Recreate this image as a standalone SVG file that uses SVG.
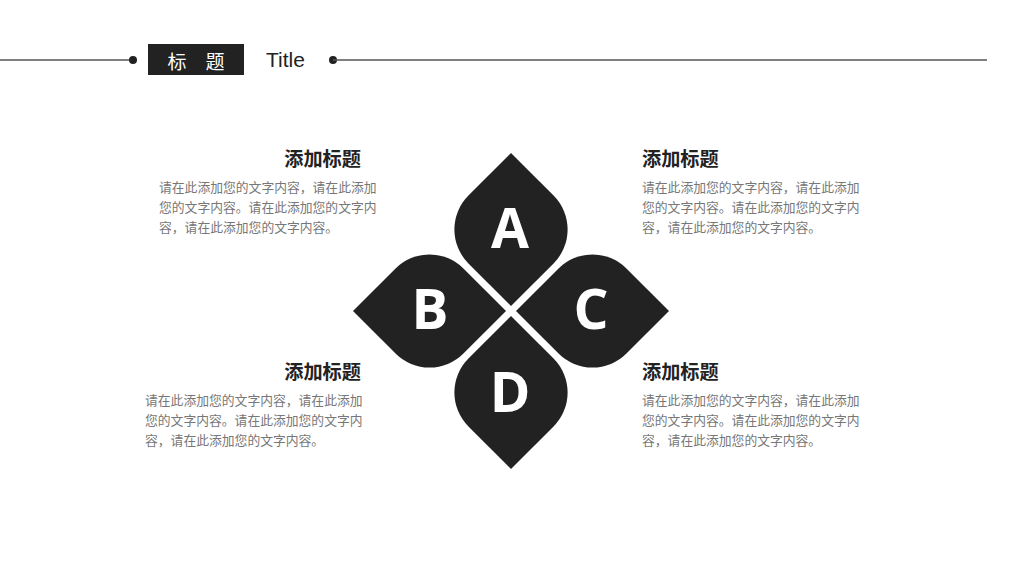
<svg xmlns="http://www.w3.org/2000/svg" width="1024" height="576" viewBox="0 0 1024 576">
<style>
.ln{stroke:#555;stroke-width:1.5;fill:none}
.dot{fill:#222}
.petal{fill:#222}
.let{font-family:"Open Sans","DejaVu Sans",sans-serif;font-weight:700;font-size:55px;fill:#fff;text-anchor:middle}
.hd{font-family:"Noto Sans CJK SC",sans-serif;font-weight:700;font-size:19.2px;fill:#222}
.bd{font-family:"Noto Sans CJK SC",sans-serif;font-size:12.8px;fill:#777}
</style>
<defs>
<path id="leaf" d="M0 0 L-42.56 -42.56 A48 48 0 0 1 -42.56 -110.44 L0 -153 L42.56 -110.44 A48 48 0 0 1 42.56 -42.56 Z"/>
</defs>
<rect width="1024" height="576" fill="#fff"/>
<g id="header">
<line class="ln" x1="0" y1="60" x2="133" y2="60"/>
<circle class="dot" cx="133" cy="60" r="4"/>
<rect x="148" y="44" width="96" height="31" fill="#222"/>
<text x="177" y="69" font-family="Noto Sans CJK SC,sans-serif" font-size="19" fill="#fff" text-anchor="middle">标</text>
<text x="215" y="69" font-family="Noto Sans CJK SC,sans-serif" font-size="19" fill="#fff" text-anchor="middle">题</text>
<text x="266" y="67" font-family="Liberation Sans,Arial,sans-serif" font-size="21" fill="#222">Title</text>
<circle class="dot" cx="333" cy="60" r="4"/>
<line class="ln" x1="333" y1="60" x2="987" y2="60"/>
</g>
<g id="petal-A">
<use href="#leaf" class="petal" transform="translate(511,306)"/>
<text class="let" x="510" y="248">A</text>
</g>
<g id="petal-B">
<use href="#leaf" class="petal" transform="translate(506,311) rotate(-90)"/>
<text class="let" x="430" y="329">B</text>
</g>
<g id="petal-C">
<use href="#leaf" class="petal" transform="translate(516,311) rotate(90)"/>
<text class="let" x="591" y="329">C</text>
</g>
<g id="petal-D">
<use href="#leaf" class="petal" transform="translate(511,316) rotate(180)"/>
<text class="let" x="510" y="412">D</text>
</g>
<g id="text-tl">
<text class="hd" x="361" y="166" text-anchor="end">添加标题</text>
<text class="bd" x="159" y="192">请在此添加您的文字内容，请在此添加</text>
<text class="bd" x="159" y="212">您的文字内容。请在此添加您的文字内</text>
<text class="bd" x="159" y="232">容，请在此添加您的文字内容。</text>
</g>
<g id="text-tr">
<text class="hd" x="642" y="166">添加标题</text>
<text class="bd" x="642" y="192">请在此添加您的文字内容，请在此添加</text>
<text class="bd" x="642" y="212">您的文字内容。请在此添加您的文字内</text>
<text class="bd" x="642" y="232">容，请在此添加您的文字内容。</text>
</g>
<g id="text-bl">
<text class="hd" x="361" y="379" text-anchor="end">添加标题</text>
<text class="bd" x="145" y="405">请在此添加您的文字内容，请在此添加</text>
<text class="bd" x="145" y="425">您的文字内容。请在此添加您的文字内</text>
<text class="bd" x="145" y="445">容，请在此添加您的文字内容。</text>
</g>
<g id="text-br">
<text class="hd" x="642" y="379">添加标题</text>
<text class="bd" x="642" y="405">请在此添加您的文字内容，请在此添加</text>
<text class="bd" x="642" y="425">您的文字内容。请在此添加您的文字内</text>
<text class="bd" x="642" y="445">容，请在此添加您的文字内容。</text>
</g>
</svg>
